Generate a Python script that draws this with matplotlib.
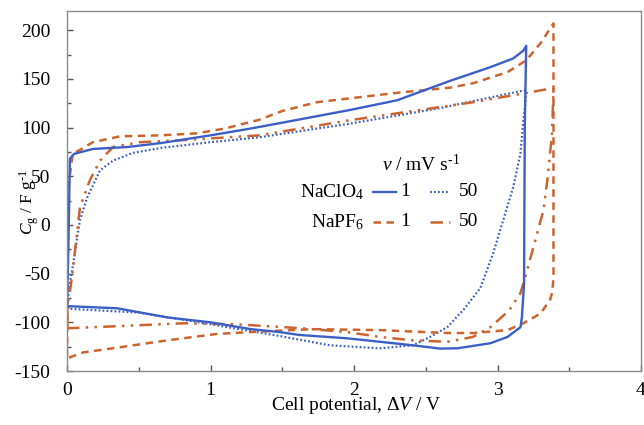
import matplotlib
matplotlib.use("Agg")
import matplotlib.pyplot as plt
from matplotlib.lines import Line2D
from matplotlib.ticker import MultipleLocator, FuncFormatter

plt.rcParams['font.family'] = ['Liberation Serif', 'DejaVu Serif']
plt.rcParams['mathtext.fontset'] = 'custom'
plt.rcParams['mathtext.rm'] = 'Liberation Serif'
plt.rcParams['mathtext.it'] = 'Liberation Serif:italic'
plt.rcParams['axes.unicode_minus'] = False

# NaClO4, 1 mV/s (closed loop: charge then discharge)
v_clo4_1 = [0.00, 0.01, 0.02, 0.05, 0.18, 0.42, 0.65, 1.00, 1.28, 1.50, 1.97, 2.30, 2.67, 2.95, 3.11, 3.18, 3.20,
            3.19, 3.185, 3.17, 3.16, 3.07, 2.95, 2.72, 2.60, 2.41, 1.95, 1.62, 1.48, 1.28, 1.00, 0.70, 0.35, 0.02, 0.00]
c_clo4_1 = [-84, -20, 68, 73, 78, 80, 84, 92, 99, 105, 118, 128, 148, 162, 171, 179, 184,
            100, -60, -95, -105, -115, -121.5, -126.7, -127, -123.6, -116.4, -113, -110, -107, -100, -95, -85.6, -83.5, -84]

# NaClO4, 50 mV/s
v_clo4_50 = [0.00, 0.02, 0.04, 0.09, 0.14, 0.23, 0.32, 0.46, 0.65, 1.00, 1.34, 1.97, 2.60, 3.18, 3.20,
             3.19, 3.18, 3.16, 3.11, 3.04, 2.97, 2.88, 2.76, 2.65, 2.53, 2.41, 2.18, 1.83, 1.48, 1.00, 0.50, 0.00]
c_clo4_50 = [-85, -60, -43, 5, 28, 56, 66, 74, 79, 85, 90, 104, 120, 138, 138,
             120, 107.5, 73.6, 39, 5, -29, -65, -87.6, -105, -115, -123.6, -126.7, -123.6, -114, -102, -90, -86]

# NaPF6, 1 mV/s
v_pf6_1 = [0.00, 0.005, 0.01, 0.04, 0.09, 0.18, 0.37, 0.65, 0.90, 1.10, 1.34, 1.50, 1.74, 1.97, 2.32, 2.67, 2.83, 3.07, 3.20, 3.30, 3.39,
           3.39, 3.38, 3.366, 3.30, 3.18, 3.07, 2.83, 2.65, 2.18, 1.71, 1.28, 1.04, 0.70, 0.35, 0.11, 0.02, 0.00]
c_pf6_1 = [-136, -60, 40, 73.6, 77, 85, 91, 92, 94, 99, 108, 117, 126, 130, 136, 141, 145.5, 157, 169, 186.6, 207,
           -55, -70, -77, -91, -101, -108, -111, -111, -108, -107, -110, -112, -118.5, -126, -131, -136, -136]

# NaPF6, 50 mV/s
v_pf6_50 = [0.00, 0.01, 0.04, 0.09, 0.16, 0.23, 0.32, 0.51, 0.80, 1.34, 1.97, 2.55, 2.83, 3.18, 3.37, 3.39,
            3.38, 3.35, 3.32, 3.25, 3.20, 3.16, 3.08, 2.95, 2.83, 2.65, 2.41, 2.18, 1.95, 1.62, 1.18, 0.81, 0.35, 0.02, 0.00]
c_pf6_50 = [-106, -80, -47, 18, 46, 66, 80, 85, 87, 92, 107.5, 120, 126, 135, 140, 140,
            94, 49, 15, -23, -50, -70, -88, -105, -115, -120, -118.5, -115, -110, -106, -102, -101, -104, -106, -106]

x_ticks = [0, 1, 2, 3, 4]
y_ticks = [-150, -100, -50, 0, 50, 100, 150, 200]

blue = '#3b5fc6'
orange = '#cc6430'
FS = 14

fig = plt.figure(figsize=(6.44, 4.25), dpi=100)
ax = fig.add_axes([67/644, 1 - 371/425, (641 - 67)/644, (371 - 10.7)/425])

ax.plot(v_clo4_50, c_clo4_50, color=blue, lw=1.6, linestyle=(0, (0.8, 1.0)))
ax.plot(v_pf6_50, c_pf6_50, color=orange, lw=1.8, linestyle=(0, (5, 2.5, 1, 2.5, 1, 2.5)))
ax.plot(v_pf6_1, c_pf6_1, color=orange, lw=1.8, linestyle=(0, (3, 2.2)))
ax.plot(v_clo4_1, c_clo4_1, color=blue, lw=1.7, linestyle='-')

ax.set_xlim(0, 4)
ax.set_ylim(-150, 220)
ax.set_xticks(x_ticks)
ax.set_yticks(y_ticks)
ax.xaxis.set_minor_locator(MultipleLocator(0.5))
ax.yaxis.set_minor_locator(MultipleLocator(25))
fmt = FuncFormatter(lambda v, p: str(int(round(v))))
ax.xaxis.set_major_formatter(fmt)
ax.yaxis.set_major_formatter(fmt)
ax.tick_params(axis='both', which='both', direction='in', color='#555555', labelsize=FS, length=4, width=1)
ax.tick_params(axis='x', which='major', pad=8)
ax.tick_params(axis='y', which='major', pad=12)
ax.tick_params(axis='both', which='minor', length=3)
for s in ax.spines.values():
    s.set_color('#8a8a8a')
    s.set_linewidth(1.0)

ax.set_xlabel(r'Cell potential, $\Delta\mathit{V}$ / V', fontsize=FS)
ax.xaxis.label.set_verticalalignment('center')
ax.xaxis.set_label_coords(0.505, (371 - 405) / 360.3)
ax.set_ylabel(r'$\mathit{C}_{\rm g}$ / F g$^{\text{-}1}$', fontsize=12.5)
ax.yaxis.label.set_verticalalignment('center')
ax.yaxis.set_label_coords((29 - 67) / 574, (371 - 202) / 360.3)

# custom legend
def px(x, y):
    return ((x - 67) / 574, (371 - y) / (371 - 10.7))

tr = ax.transAxes
ax.text(*px(421, 164), r'$\mathit{\nu}$ / mV s$^{\text{-}1}$', transform=tr, fontsize=FS, ha='center', va='center')
ax.text(*px(364, 192), r'NaClO$_4$', transform=tr, fontsize=FS, ha='right', va='center')
ax.text(*px(364, 222), r'NaPF$_6$', transform=tr, fontsize=FS, ha='right', va='center')
rows = [(192, blue, '-', 1.7, blue, (0, (0.8, 1.0)), 1.6),
        (222, orange, (0, (3, 2.2)), 1.8, orange, (0, (5, 2.5, 1, 2.5)), 1.8)]
for y, c1, ls1, lw1, c2, ls2, lw2 in rows:
    (x0, y0), (x1, _) = px(373, y), px(396, y)
    ax.add_line(Line2D([x0, x1], [y0, y0], transform=tr, color=c1, ls=ls1, lw=lw1))
    ax.text(*px(405, y), '1', transform=tr, fontsize=FS, ha='center', va='center')
    (x0, y0), (x1, _) = px(430, y), px(450, y)
    ax.add_line(Line2D([x0, x1], [y0, y0], transform=tr, color=c2, ls=ls2, lw=lw2))
    ax.text(*px(469, y), '50', transform=tr, fontsize=FS, ha='center', va='center')

fig.savefig('out.png', dpi=100)
